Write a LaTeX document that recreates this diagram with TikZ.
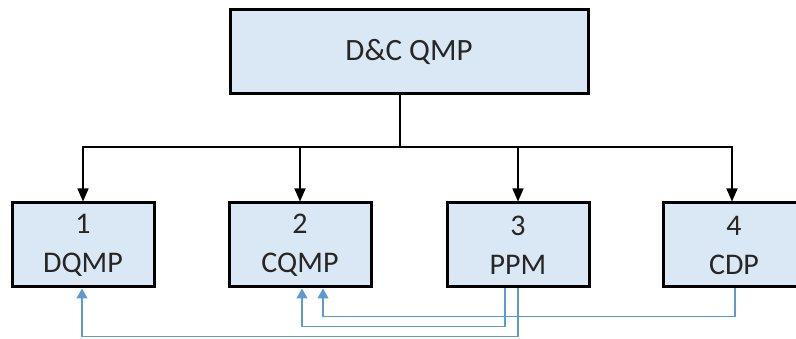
\documentclass[tikz,border=0pt]{standalone}
\usepackage{fontspec}
\setmainfont{Carlito}
\usetikzlibrary{arrows.meta}
\definecolor{boxfill}{HTML}{DAE8F5}
\definecolor{linkblue}{HTML}{5B9BD5}
\tikzset{
  mainbox/.style={draw=black, line width=3pt, fill=boxfill, minimum width=358pt, minimum height=84pt, inner sep=0pt, font=\fontsize{31}{36}\selectfont, text=black!85},
  subbox/.style={draw=black, line width=3pt, fill=boxfill, minimum width=142pt, minimum height=84pt, inner sep=0pt, align=center, font=\fontsize{30}{39}\selectfont, text=black!85},
  downarrow/.style={line width=1.5pt, -{Triangle[width=11pt,length=13pt]}},
  bluelink/.style={draw=linkblue, line width=1.3pt, -{Triangle[width=11pt,length=10pt]}}
}
\begin{document}
\begin{tikzpicture}[x=1pt,y=-1pt]
\useasboundingbox (0,0) rectangle (796,339);
\clip (0,0) rectangle (796,339);
\fill[white] (0,0) rectangle (796,339);
\node[mainbox] (top) at (409,52) {D\&C QMP};
\node[subbox] (b1) at (83,245) {1\\DQMP};
\node[subbox] (b2) at (300,245) {2\\CQMP};
\node[subbox] (b3) at (518,245) {3\\PPM};
\node[subbox] (b4) at (734,245) {4\\CDP};
\coordinate (j) at (400,147);
\draw[line width=1.5pt] (top.south -| j) -- (j);
\draw[downarrow] (j) -| (b1.north);
\draw[downarrow] (j) -| (b2.north);
\draw[downarrow] (j) -| (b3.north);
\draw[downarrow] (j) -| ([xshift=-2pt]b4.north);
% blue feedback links
\draw[bluelink] ([xshift=0pt]b3.south) -- ++(0,48) -| ([xshift=-1pt]b1.south);
\draw[bluelink] ([xshift=-13pt]b3.south) -- ++(0,38) -| ([xshift=2pt]b2.south);
\draw[bluelink] ([xshift=1pt]b4.south) -- ++(0,28) -| ([xshift=23pt]b2.south);
\end{tikzpicture}
\end{document}
